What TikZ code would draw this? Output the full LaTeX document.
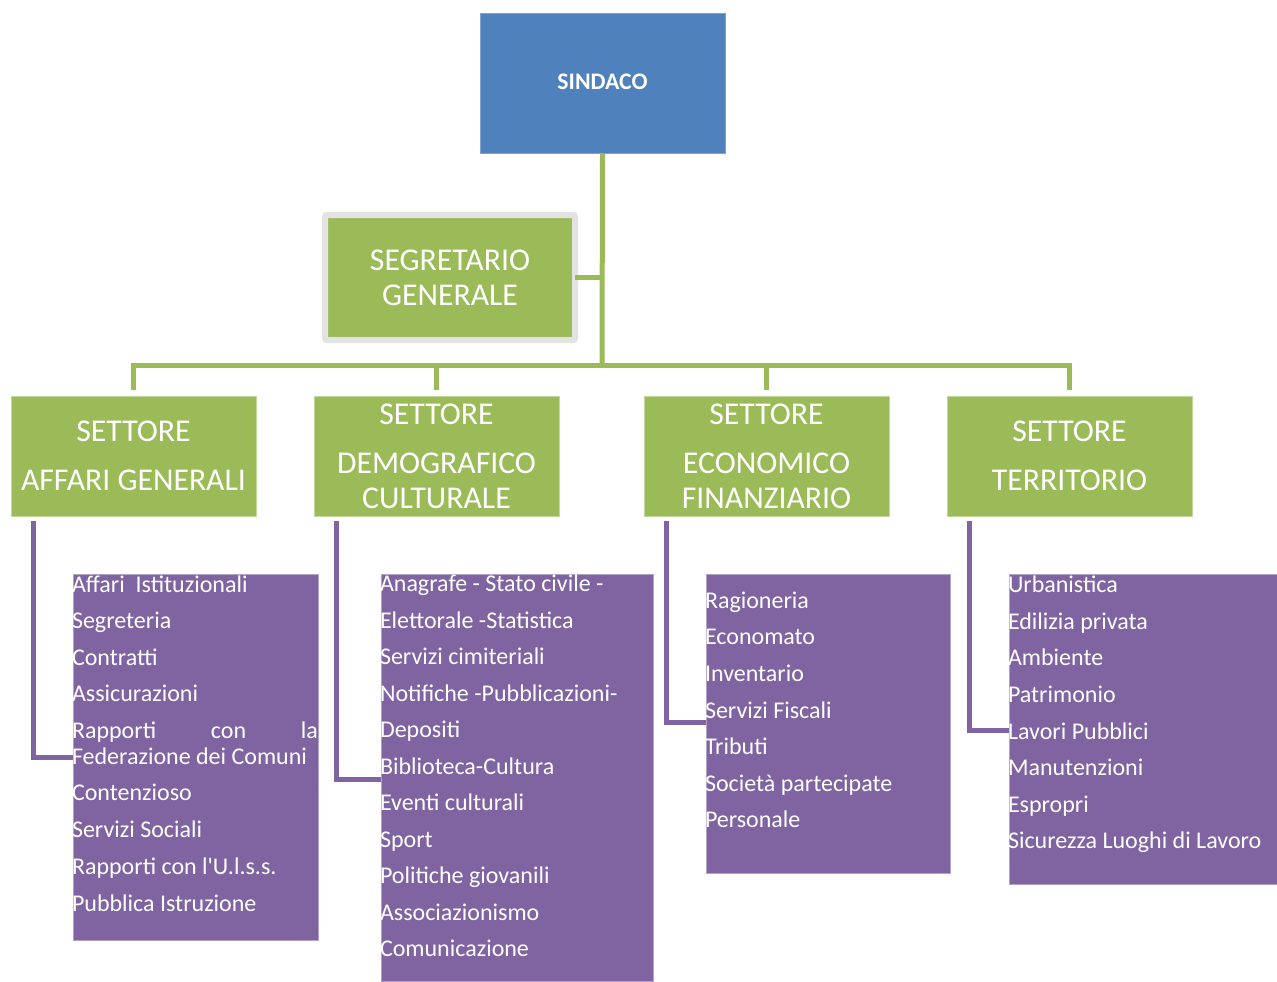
\documentclass[tikz,border=0pt]{standalone}
\usepackage{fontspec}
\setmainfont{Carlito}
\usetikzlibrary{calc}
\newdimen\pxu \pxu=0.75pt
\definecolor{cblue}{HTML}{4F81BD}
\definecolor{cblueedge}{HTML}{7FA3D0}
\definecolor{cgreen}{HTML}{9BBB59}
\definecolor{cpurple}{HTML}{8064A2}
\definecolor{cgreenedge}{HTML}{C3D69B}
\definecolor{cpurpleedge}{HTML}{B3A2C7}
\definecolor{cgray}{HTML}{E3E3E3}
\begin{document}
\begin{tikzpicture}[x=0.75pt,y=-0.75pt,
 box/.style={anchor=north west, inner sep=0pt, outer sep=0pt, rectangle},
 greenbox/.style={box, fill=cgreen, draw=cgreenedge, line width=1\pxu, minimum width=245\pxu, minimum height=120\pxu, text=white, align=center, font=\fontsize{23.8pt}{26.25pt}\selectfont},
 purplebox/.style={box, fill=cpurple, draw=cpurpleedge, line width=1\pxu},
 item/.style={anchor=base west, inner sep=0pt, outer sep=0pt, text=white, font=\fontsize{18pt}{20pt}\selectfont},
 gline/.style={draw=cgreen, line width=5\pxu, line join=miter},
 pline/.style={draw=cpurple, line width=5\pxu, line join=miter}]
\useasboundingbox[fill=white] (0,0) rectangle (1277,981);

% top boxes
\node[box, fill=cblue, draw=cblueedge, line width=1\pxu, minimum width=245\pxu, minimum height=139\pxu] (sindaco) at (480,14) {};
\node[inner sep=0pt, text=white, font=\bfseries\fontsize{17.8pt}{20pt}\selectfont] (sindacotxt) at ($(sindaco.center)+(0,-2)$) {SINDACO};
\node[box, fill=cgreen, draw=cgray, line width=6\pxu, rounded corners=2\pxu, minimum width=250\pxu, minimum height=125\pxu, text=white, align=center, font=\fontsize{23.8pt}{26.25pt}\selectfont] (seg) at (325,215) {SEGRETARIO\\GENERALE};

% settori
\node[greenbox] (s1) at (11,396) {SETTORE\\[10.5pt]AFFARI GENERALI};
\node[greenbox] (s2) at (314,396) {SETTORE\\[10.5pt]DEMOGRAFICO\\CULTURALE};
\node[greenbox] (s3) at (644,396) {SETTORE\\[10.5pt]ECONOMICO\\FINANZIARIO};
\node[greenbox] (s4) at (947,396) {SETTORE\\[10.5pt]TERRITORIO};

% purple boxes
\node[purplebox, minimum width=245\pxu, minimum height=366\pxu] (p1) at (73,574) {};
\node[purplebox, minimum width=272\pxu, minimum height=407\pxu] (p2) at (381,574) {};
\node[purplebox, minimum width=244\pxu, minimum height=299\pxu] (p3) at (706,574) {};
\node[purplebox, minimum width=268\pxu, minimum height=310\pxu] (p4) at (1009,574) {};

% green connectors
\coordinate (bus) at (602,365);
\draw[gline] (sindaco.south) -- (bus);
\draw[gline] (seg.east) -- (seg.east -| bus);
\draw[gline] ($(s1.north)+(0,-6)$) |- (bus -| s4.north) -- ($(s4.north)+(0,-6)$);
\draw[gline] (bus -| s2.north) -- ($(s2.north)+(0,-6)$);
\draw[gline] (bus -| s3.north) -- ($(s3.north)+(0,-6)$);

% purple connectors
\draw[pline] ($(s1.south west)+(22,5)$) |- ($(p1.north west)+(0,183)$);
\draw[pline] ($(s2.south west)+(22,5)$) |- ($(p2.north west)+(0,205)$);
\draw[pline] ($(s3.south west)+(22,5)$) |- ($(p3.north west)+(0,148)$);
\draw[pline] ($(s4.south west)+(22,5)$) |- ($(p4.north west)+(0,156)$);

% list 1
\node[item] (a1) at (72,592.7) {Affari\ \ Istituzionali};
\node[item] (a2) at (72,628.8) {Segreteria};
\node[item] (a3) at (72,665.2) {Contratti};
\node[item] (a4) at (72,701.8) {Assicurazioni};
\node[item] (a5) at (72,738.3) {\makebox[246\pxu][l]{Rapporti\hfill con\hfill la}};
\node[item] (a6) at (72,764.3) {Federazione dei Comuni};
\node[item] (a7) at (72,800.8) {Contenzioso};
\node[item] (a8) at (72,837.4) {Servizi Sociali};
\node[item] (a9) at (72,874.8) {Rapporti con l\textquotesingle U.l.s.s.};
\node[item] (a10) at (72,911.5) {Pubblica Istruzione};

% list 2
\foreach \t [count=\i] in {Anagrafe - Stato civile -, Elettorale -Statistica, Servizi cimiteriali, Notifiche -Pubblicazioni-, Depositi, Biblioteca-Cultura, Eventi culturali, Sport, Politiche giovanili, Associazionismo, Comunicazione}
  \node[item] (b\i) at (380,{591.7+(\i-1)*36.5}) {\t};

% list 3
\foreach \t [count=\i] in {Ragioneria, Economato, Inventario, Servizi Fiscali, Tributi, Società partecipate, Personale}
  \node[item] (c\i) at (705,{608.3+(\i-1)*36.6}) {\t};

% list 4
\foreach \t [count=\i] in {Urbanistica, Edilizia privata, Ambiente, Patrimonio, Lavori Pubblici, Manutenzioni, Espropri, Sicurezza Luoghi di Lavoro}
  \node[item] (d\i) at (1008,{592.7+(\i-1)*36.6}) {\t};
\end{tikzpicture}
\end{document}
